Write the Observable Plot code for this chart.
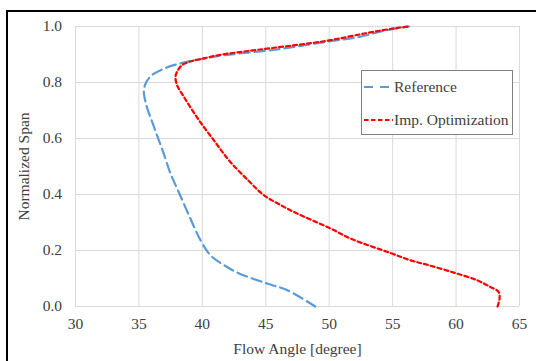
<!DOCTYPE html>
<html>
<head>
<meta charset="utf-8">
<script src="https://cdn.jsdelivr.net/npm/d3@7"></script>
<script src="https://cdn.jsdelivr.net/npm/@observablehq/plot@0.6"></script>
<style>
  html, body { margin: 0; padding: 0; background: #fff; overflow: hidden; }
  #wrap { position: relative; width: 536px; height: 361px; font-family: "Liberation Serif", "Times New Roman", serif; }
  #chart svg, #chart svg text, #chart svg g { font-family: "Liberation Serif", "Times New Roman", serif !important; }
  #chart svg { font-size: 15.5px !important; }
  #frame { position: absolute; left: 6px; top: 10px; width: 600px; height: 400px; border: 2.5px solid #000; box-sizing: border-box; pointer-events: none; }
  #legend { position: absolute; left: 361px; top: 70px; width: 152px; height: 65px; border: 1px solid #808080; background: #fff; box-sizing: border-box; font-size: 15.5px; color: #404040; }
  .row { position: absolute; left: 2px; display: flex; align-items: center; white-space: nowrap; }
  .row svg { display: block; margin-right: 1px; }
</style>
</head>
<body>
<div id="wrap">
  <div id="chart"></div>
  <div id="legend"></div>
  <div id="frame"></div>
</div>
<script>
// Reference series (flow angle [deg], normalized span), hub to tip
const refAngle = [48.9, 46.7, 45.1, 42.9, 41.7, 40.64, 39.85, 39.0, 38.15, 37.49, 36.9, 36.18, 35.55, 35.39, 35.6, 36.05, 36.84, 37.75, 38.8, 39.85, 41.3, 45.7, 49.7, 52.37, 54.53, 56.3];
const refSpan  = [0.0, 0.058, 0.082, 0.118, 0.148, 0.183, 0.237, 0.32, 0.407, 0.475, 0.553, 0.642, 0.725, 0.773, 0.803, 0.827, 0.847, 0.862, 0.874, 0.883, 0.895, 0.917, 0.945, 0.963, 0.987, 1.0];

// Imp. Optimization series, hub to tip
const optAngle = [63.27, 63.43, 63.35, 62.69, 61.64, 59.9, 57.8, 56.4, 54.95, 51.66, 50.09, 47.47, 46.02, 44.84, 43.6, 42.08, 40.9, 39.72, 38.54, 38.0, 37.88, 38.0, 38.4, 39.2, 40.1, 41.3, 43.0, 45.64, 49.68, 52.91, 55.07, 56.3];
const optSpan  = [0.0, 0.029, 0.052, 0.07, 0.094, 0.12, 0.148, 0.165, 0.189, 0.243, 0.279, 0.332, 0.366, 0.398, 0.451, 0.523, 0.594, 0.666, 0.749, 0.791, 0.82, 0.838, 0.862, 0.877, 0.886, 0.898, 0.909, 0.924, 0.948, 0.976, 0.993, 1.0];

const xTicks = [30, 35, 40, 45, 50, 55, 60, 65];
const yTicks = [0, 0.2, 0.4, 0.6, 0.8, 1.0];

const seriesNames = ["Reference", "Imp. Optimization"];
const seriesColors = ["#5B9BD5", "#FF0000"];
const seriesDash = ["10,5", "4,3"];

const refData = refAngle.map((a, i) => ({angle: a, span: refSpan[i]}));
const optData = optAngle.map((a, i) => ({angle: a, span: optSpan[i]}));

const chart = Plot.plot({
  width: 536,
  height: 361,
  marginLeft: 75,
  marginRight: 17,
  marginTop: 26,
  marginBottom: 55,
  style: { fontFamily: "'Liberation Serif', serif", fontSize: "15.5px", color: "#404040", background: "transparent" },
  x: { domain: [30, 65], label: "Flow Angle [degree]" },
  y: { domain: [0, 1], label: "Normalized Span" },
  marks: [
    Plot.gridX(xTicks, { stroke: "#d9d9d9", strokeOpacity: 1 }),
    Plot.gridY(yTicks, { stroke: "#d9d9d9", strokeOpacity: 1 }),
    Plot.axisX({ ticks: xTicks, tickSize: 0, tickPadding: 11, fill: "#404040",
      label: "Flow Angle [degree]", labelAnchor: "center", labelArrow: "none", labelOffset: 47 }),
    Plot.axisY({ ticks: yTicks, tickSize: 0, tickPadding: 13.5, tickFormat: d3.format(".1f"), fill: "#404040",
      label: "Normalized Span", labelAnchor: "center", labelArrow: "none", labelOffset: 57.5 }),
    Plot.line(refData, { x: "angle", y: "span", stroke: seriesColors[0], strokeWidth: 2.2, strokeDasharray: seriesDash[0], curve: "catmull-rom" }),
    Plot.line(optData, { x: "angle", y: "span", stroke: seriesColors[1], strokeWidth: 2.2, strokeDasharray: seriesDash[1], curve: "catmull-rom" })
  ]
});
document.getElementById("chart").appendChild(chart);

// Legend
const legend = document.getElementById("legend");
const rowTops = [6, 39];
const legendDash = ["9,7", "4.5,2.5"];
seriesNames.forEach((name, i) => {
  const row = document.createElement("div");
  row.className = "row";
  row.style.top = rowTops[i] + "px";
  row.innerHTML = `<svg width="29" height="20"><line x1="0" y1="10" x2="29" y2="10" stroke="${seriesColors[i]}" stroke-width="2" stroke-dasharray="${legendDash[i]}"/></svg><span>${name}</span>`;
  legend.appendChild(row);
});
</script>
</body>
</html>
